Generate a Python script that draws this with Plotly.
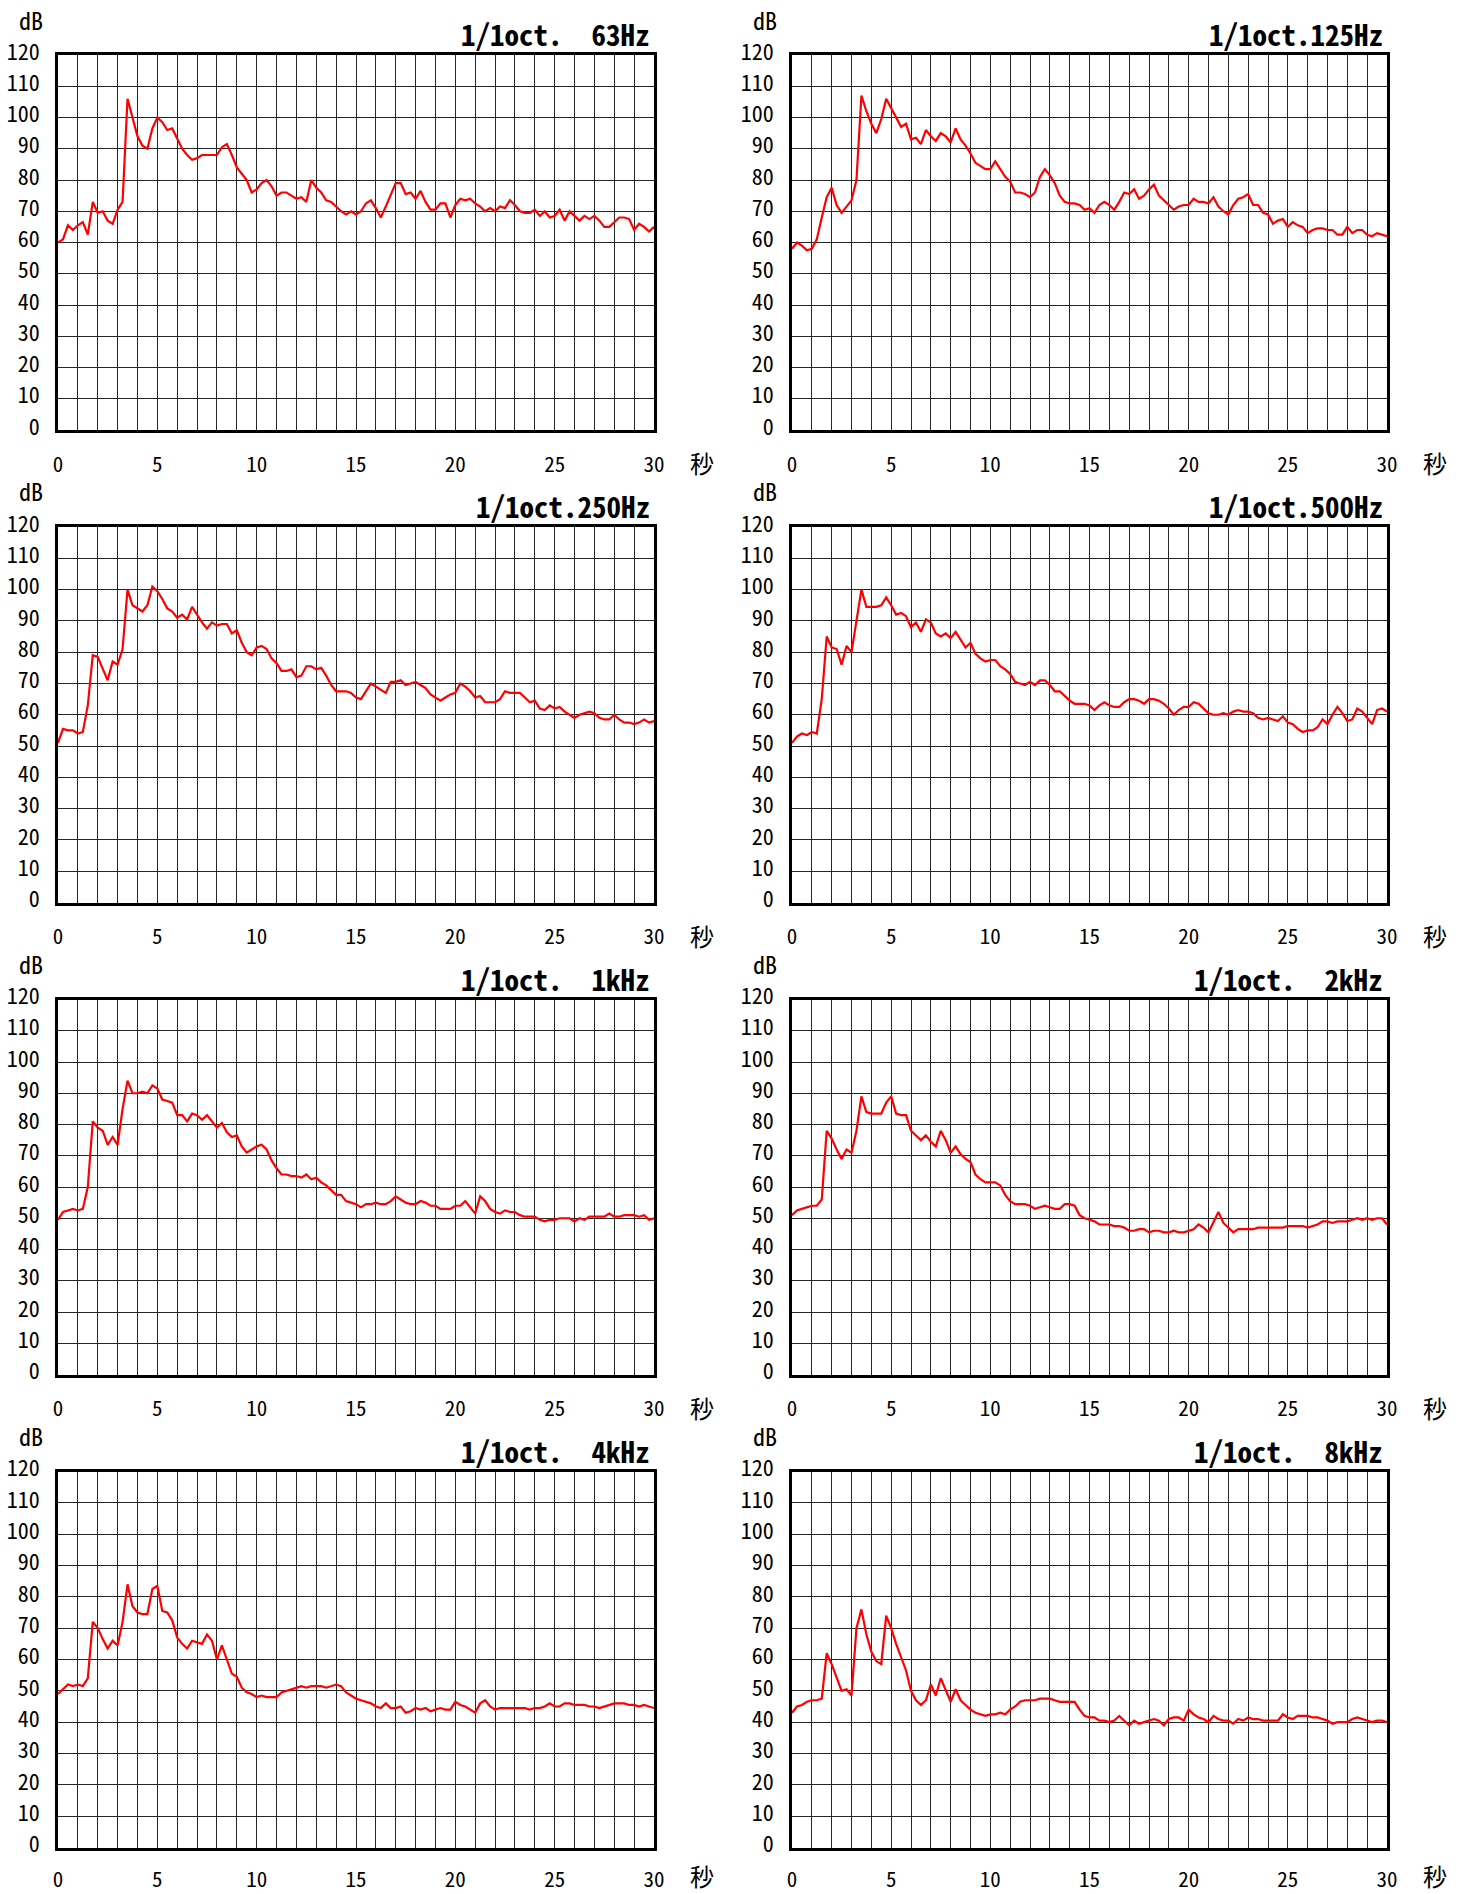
import plotly.graph_objects as go

# ---------------- data (dB vs. time, sampled every 0.25 s) ----------------
TIME_S = [round(i * 0.25, 2) for i in range(121)]

TITLES = ["1/1oct.  63Hz", "1/1oct.125Hz", "1/1oct.250Hz", "1/1oct.500Hz",
          "1/1oct.  1kHz", "1/1oct.  2kHz", "1/1oct.  4kHz", "1/1oct.  8kHz"]

X_TICKS = [0, 5, 10, 15, 20, 25, 30]
Y_TICKS = [0, 10, 20, 30, 40, 50, 60, 70, 80, 90, 100, 110, 120]

DB_63HZ = [60, 61, 65.5, 64, 65.5, 66.5, 62.5, 73, 69.5, 70,
           67, 66, 70.5, 73, 106, 100, 94, 91, 90, 96.5,
           100, 98.5, 96, 96.5, 93, 90, 88, 86.5, 87, 88,
           88, 88, 88, 90.5, 91.5, 88, 84, 82, 80, 76,
           77, 79, 80, 78, 75, 76, 76, 75, 74, 74.5,
           73, 80, 77.5, 76, 73.5, 73, 71.5, 70, 69, 70,
           69, 70, 72.5, 73.5, 71, 68, 71.5, 75, 79, 79,
           75.5, 76, 74, 76.5, 73, 70.5, 70.5, 72.5, 72.5, 68,
           72, 74, 73.5, 74, 72.5, 71.5, 70, 71, 70, 71.5,
           71, 73.5, 72, 70, 69.5, 69.5, 70.5, 68.5, 70, 68,
           68.5, 70.5, 67, 70, 68.5, 67, 68.5, 67.5, 68.5, 67,
           65, 65, 66.5, 68, 68, 67.5, 64, 66, 65, 63.5,
           65]

DB_125HZ = [58, 60, 59, 57.5, 58, 61, 68, 74.5, 77.5, 72,
            69.5, 71.5, 73.5, 80, 107, 102, 98, 95, 99.5, 106,
            103, 99.5, 97, 98, 93, 93.5, 91.5, 96, 94, 92.5,
            95, 94, 92, 96.5, 93, 91, 88.5, 85.5, 84.5, 83.5,
            83.5, 86, 83.5, 81, 79.5, 76, 76, 75.5, 74.5, 76,
            81, 83.5, 81.5, 79, 75, 73, 72.5, 72.5, 72, 70.5,
            71, 69.5, 72, 73, 72, 70.5, 73, 76, 75.5, 77,
            74, 75, 77, 78.5, 75, 73.5, 72, 70.5, 71.5, 72,
            72, 74, 73, 73, 72.5, 74.5, 71.5, 70, 69, 72,
            74, 74.5, 75.5, 72, 72, 69.5, 69, 66, 67, 67.5,
            65, 66.5, 65.5, 65, 63, 64, 64.5, 64.5, 64, 64,
            62.5, 62.5, 65, 63, 64, 64, 62.5, 62, 63, 62.5,
            62]

DB_250HZ = [51, 55.5, 55, 55, 54, 54.5, 63, 79, 78.5, 74.5,
            71, 77, 76, 81, 100, 95, 94, 93, 95, 101,
            99.5, 97, 94, 93, 91, 92, 90.5, 94.5, 92, 89.5,
            87.5, 89.5, 88.5, 89, 89, 86, 87, 83, 80, 79,
            81.5, 82, 81, 78, 76.5, 74, 74, 74.5, 72, 72.5,
            75.5, 75.5, 74.5, 75, 72.5, 69.5, 67.5, 67.5, 67.5, 67,
            65.5, 65, 67.5, 70, 69, 68, 67, 70.5, 70.5, 71,
            69.5, 70, 70.5, 69.5, 68.5, 66.5, 65.5, 64.5, 65.5, 66.5,
            67, 70, 69, 67.5, 65.5, 66, 64, 64, 64, 65,
            67.5, 67, 67, 67, 65.5, 64, 64.5, 62, 61.5, 63,
            62, 62.5, 61, 60, 59, 60, 60.5, 61, 60.5, 59,
            58.5, 58.5, 60, 58.5, 57.5, 57.5, 57, 57.5, 58.5, 57.5,
            58]

DB_500HZ = [51, 53, 54, 53.5, 54.5, 54, 65, 85, 81.5, 81,
            76, 82, 80, 90, 100, 94.5, 94.5, 94.5, 95, 97.5,
            95, 92, 92.5, 91.5, 88, 89.5, 86.5, 90.5, 89.5, 86,
            85, 86, 84.5, 86.5, 84, 81.5, 83, 79.5, 78, 77,
            77.5, 77.5, 75.5, 74.5, 73, 70.5, 70, 69.5, 70.5, 69.5,
            71, 71, 69.5, 67.5, 67.5, 66, 64.5, 63.5, 63.5, 63.5,
            63, 61.5, 63, 64, 63, 62.5, 62.5, 64, 65, 65,
            64.5, 63.5, 65, 65, 64.5, 63.5, 62, 60, 61.5, 62.5,
            62.5, 64, 63.5, 62, 60.5, 60, 60, 60.5, 60, 61,
            61.5, 61, 61, 60.5, 59, 58.5, 59, 58.5, 58, 59.5,
            57.5, 57, 55.5, 54.5, 55, 55, 56, 58.5, 57, 60,
            62.5, 60.5, 58, 58.5, 62, 61, 59, 57, 61.5, 62,
            61]

DB_1KHZ = [49.5, 52, 52.5, 53, 52.5, 53, 60, 81, 79, 78,
           73.5, 76, 73.5, 85, 94, 90, 90, 90.5, 90, 92.5,
           91.5, 88, 87.5, 87, 83, 83, 81, 83.5, 83, 81.5,
           83, 81, 79, 80.5, 77.5, 76, 76.5, 73, 71, 72,
           73, 73.5, 72, 68.5, 66, 64, 64, 63.5, 63.5, 63,
           64, 62.5, 63, 61.5, 60.5, 59, 57.5, 57.5, 55.5, 55,
           54.5, 53.5, 54.5, 54.5, 55, 54.5, 54.5, 55.5, 57, 56,
           55, 54.5, 54.5, 55.5, 55, 54, 54, 53, 53, 53,
           54, 54, 55.5, 53.5, 51.5, 57, 55.5, 53, 52, 51.5,
           52.5, 52, 52, 51, 50.5, 50.5, 50.5, 49.5, 49, 49.5,
           49.5, 50, 50, 50, 49, 50, 49.5, 50.5, 50.5, 50.5,
           50.5, 51.5, 50.5, 50.5, 51, 51, 51, 50.5, 51, 49.5,
           50]

DB_2KHZ = [51, 52.5, 53, 53.5, 54, 54, 56, 78, 75.5, 72,
           69, 72, 71, 78, 89, 84, 83.5, 83.5, 83.5, 87,
           89, 83.5, 83, 83, 78, 76.5, 75, 76.5, 74.5, 73,
           78, 75, 71, 73, 70.5, 69, 68, 64, 62.5, 61.5,
           61.5, 61.5, 60.5, 57.5, 55.5, 54.5, 54.5, 54.5, 54, 53,
           53.5, 54, 53.5, 53, 53, 54.5, 54.5, 54, 51, 50,
           49.5, 49, 48, 48, 48, 47.5, 47.5, 47, 46, 46,
           46.5, 46.5, 45.5, 46, 46, 45.5, 45.5, 46, 45.5, 45.5,
           46, 46.5, 48, 47, 45.5, 49, 52, 48.5, 47, 45.5,
           46.5, 46.5, 46.5, 46.5, 47, 47, 47, 47, 47, 47,
           47.5, 47.5, 47.5, 47.5, 47, 47.5, 48, 49, 49, 48.5,
           49, 49, 49, 49.5, 50, 49.5, 50, 49.5, 50, 50,
           48]

DB_4KHZ = [49, 50.5, 52, 51.5, 52, 51.5, 54, 72, 70, 66.5,
           63.5, 66, 64.5, 72, 84, 77, 75, 74.5, 74.5, 82.5,
           83.5, 75.5, 75, 72.5, 67, 65, 63.5, 66, 65.5, 65,
           68, 66, 60, 64.5, 60, 55.5, 54.5, 51, 49.5, 49,
           48, 48.5, 48, 48, 48, 49.5, 50, 50.5, 51, 51.5,
           51, 51.5, 51.5, 51.5, 51, 51.5, 52, 51.5, 49.5, 48.5,
           47.5, 47, 46.5, 46, 45, 44.5, 46, 44.5, 44.5, 45,
           43, 43.5, 44.5, 44, 44.5, 43.5, 44, 44.5, 44, 44,
           46.5, 45.5, 45, 44, 43, 46, 47, 45, 44, 44.5,
           44.5, 44.5, 44.5, 44.5, 44.5, 44, 44.5, 44.5, 45, 46,
           45, 45, 46, 46, 45.5, 45.5, 45.5, 45, 45, 44.5,
           45, 45.5, 46, 46, 46, 45.5, 45.5, 45, 45.5, 45,
           44.5]

DB_8KHZ = [43, 45, 45.5, 46.5, 47, 47, 47.5, 62, 58.5, 54,
           50, 50.5, 48.5, 70, 76, 68, 62.5, 59.5, 58.5, 74,
           70, 65, 61, 56.5, 50, 47, 45.5, 47, 52, 48.5,
           54, 50.5, 46.5, 50.5, 47, 45.5, 44, 43, 42.5, 42,
           42.5, 42.5, 43, 42.5, 44, 45, 46.5, 47, 47, 47,
           47.5, 47.5, 47.5, 47, 46.5, 46.5, 46.5, 46.5, 44, 42,
           41.5, 41.5, 40.5, 40.5, 40, 40.5, 42, 40.5, 39, 40.5,
           39.5, 40, 40.5, 41, 40.5, 39, 41, 41.5, 41.5, 40.5,
           44, 42.5, 41.5, 41, 40, 42, 41, 40.5, 40.5, 39.5,
           41, 40.5, 41.5, 41, 41, 40.5, 40.5, 40.5, 40.5, 42.5,
           41.5, 41, 42, 42, 42, 41.5, 41.5, 41, 40.5, 39.5,
           40, 40, 40, 41, 41.5, 41, 40.5, 40, 40.5, 40.5,
           40]

SERIES = [DB_63HZ, DB_125HZ, DB_250HZ, DB_500HZ, DB_1KHZ, DB_2KHZ, DB_4KHZ, DB_8KHZ]

# ---------------- layout geometry (pixels) ----------------
W, H = 1460, 1894
COLS = [(58, 654), (792, 1387)]
ROWS = [(55, 430), (527, 902.5), (999.5, 1374.5), (1471.5, 1847.5)]

MONO = "Noto Sans Mono CJK JP, Noto Sans CJK JP, DejaVu Sans Mono, monospace"
GRID = "#262626"

fig = go.Figure()
layout = dict(
    template="none",
    width=W, height=H, autosize=False,
    margin=dict(l=0, r=0, t=0, b=0, pad=0),
    paper_bgcolor="white", plot_bgcolor="white",
    showlegend=False,
    font=dict(family=MONO, color="black"),
)
annotations = []

def px_x(x):
    return x / W

def px_y(y):
    return 1 - y / H

for i, (title, vals) in enumerate(zip(TITLES, SERIES)):
    n = i + 1
    r, c = divmod(i, 2)
    x0, x1 = COLS[c]
    y0, y1 = ROWS[r]
    xname = "xaxis" if n == 1 else f"xaxis{n}"
    yname = "yaxis" if n == 1 else f"yaxis{n}"
    xref = "x" if n == 1 else f"x{n}"
    yref = "y" if n == 1 else f"y{n}"

    fig.add_trace(go.Scatter(
        x=TIME_S, y=vals, mode="lines",
        line=dict(color="#ff0000", width=2.2),
        xaxis=xref, yaxis=yref, hoverinfo="skip",
    ))

    layout[xname] = dict(
        domain=[px_x(x0), px_x(x1)], anchor=yref, automargin=False,
        range=[0, 30], tickmode="array", tickvals=X_TICKS,
        ticktext=[str(v) for v in X_TICKS],
        showgrid=True, gridcolor=GRID, gridwidth=1,
        minor=dict(tick0=0, dtick=1, showgrid=True, gridcolor=GRID, gridwidth=1),
        showline=True, mirror=True, linecolor="black", linewidth=2.5,
        zeroline=False, ticks="", ticklabelstandoff=(12 if r == 3 else 14),
        tickfont=dict(family=MONO, size=21, color="black"),
        fixedrange=True,
    )
    layout[yname] = dict(
        domain=[px_y(y1), px_y(y0)], anchor=xref, automargin=False,
        range=[0, 120], tickmode="array", tickvals=Y_TICKS,
        ticktext=[str(v) for v in Y_TICKS],
        showgrid=True, gridcolor=GRID, gridwidth=1,
        showline=True, mirror=True, linecolor="black", linewidth=2.5,
        zeroline=False, ticks="", ticklabelstandoff=11, ticklabelshift=-3,
        tickfont=dict(family=MONO, size=22, color="black"),
        fixedrange=True,
    )

    # panel title
    annotations.append(dict(
        text="<b>" + title + "</b>", xref="paper", yref="paper",
        x=px_x(x1 - 2), y=px_y(y0 - 22), xanchor="right", yanchor="middle",
        showarrow=False, font=dict(family=MONO, size=29, color="black"),
    ))
    # unit labels
    annotations.append(dict(
        text="dB", xref="paper", yref="paper",
        x=px_x(x0 - 27), y=px_y(y0 - 36), xanchor="center", yanchor="middle",
        showarrow=False, font=dict(family=MONO, size=24, color="black"),
    ))
    if r == 3:
        sec_pos = dict(y=0, yanchor="bottom")
    else:
        sec_pos = dict(y=px_y(y1 + 33), yanchor="middle")
    annotations.append(dict(
        text="秒", xref="paper", yref="paper",
        x=px_x(x1 + 48), xanchor="center", borderpad=0,
        showarrow=False, font=dict(family="Noto Sans CJK JP", size=24, color="black"),
        **sec_pos,
    ))

layout["annotations"] = annotations
fig.update_layout(**layout)

fig.write_html("out.html", post_script="document.body.style.margin='0';",
               config={"displayModeBar": False})
